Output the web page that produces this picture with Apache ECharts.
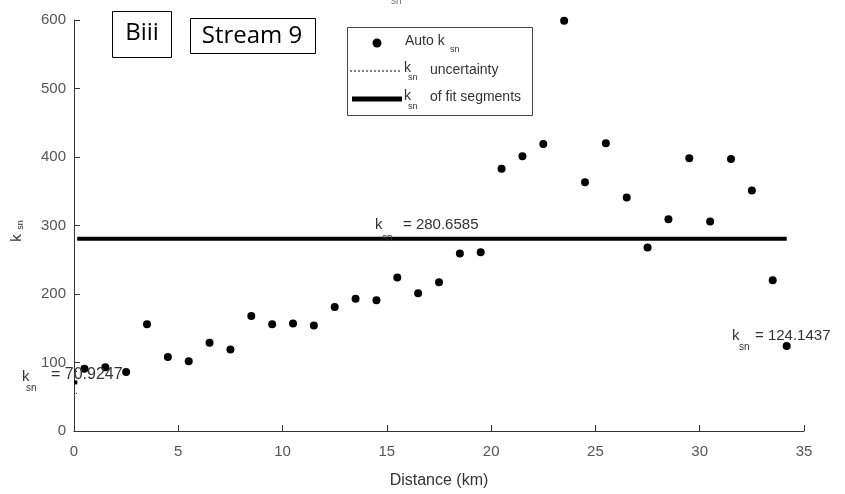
<!DOCTYPE html>
<html>
<head>
<meta charset="utf-8">
<script src="https://cdn.jsdelivr.net/npm/echarts@6/dist/echarts.min.js"></script>
<style>html,body{margin:0;padding:0;background:#fff}#c{width:845px;height:494px}</style>
</head>
<body>
<div id="c"></div>
<script>
// Auto k_sn points
const distanceKm = [0.5,1.5,2.5,3.5,4.5,5.5,6.5,7.5,8.5,9.5,10.5,11.5,12.5,13.5,14.5,15.5,16.5,17.5,18.5,19.5,20.5,21.5,22.5,23.5,24.5,25.5,26.5,27.5,28.5,29.5,30.5,31.5,32.5,33.5,34.17];
const autoKsn   = [91,93,86,156,108,102,129,119,168,156,157,154,181,193,191,224,201,217,259,261,383,401,419,599,363,420,341,268,309,398,306,397,351,220,124];
// Fit segments
const segStart = [0, 0.16, 34.17];
const segEnd   = [0.16, 34.17, 34.2];
const segKsn   = [70.9247, 280.6585, 124.1437];
const segLow   = [55, 279.5, 112];
const segHigh  = [87, 281.8, 139];
// Axis ticks
const xTicks = [0,5,10,15,20,25,30,35];
const yTicks = [0,100,200,300,400,500,600];

const AX = '#333', LAB = '#555', FF = '"Liberation Sans", Arial, sans-serif';

const series = [{
  name: 'Auto k_sn', type: 'scatter', symbol: 'circle', symbolSize: 8,
  itemStyle: { color: '#000', opacity: 1 }, z: 5,
  data: distanceKm.map((d, i) => [d, autoKsn[i]])
}];
segStart.forEach((s, i) => {
  series.push({ type: 'line', symbol: 'none', silent: true, z: 3,
    lineStyle: { color: '#000', width: 1, type: 'dotted' },
    data: [[s, segLow[i]], [segEnd[i], segLow[i]]] });
  series.push({ type: 'line', symbol: 'none', silent: true, z: 3,
    lineStyle: { color: '#000', width: 1, type: 'dotted' },
    data: [[s, segHigh[i]], [segEnd[i], segHigh[i]]] });
  series.push({ type: 'line', symbol: 'none', silent: true, z: 4,
    lineStyle: { color: '#000', width: 4, cap: 'butt' },
    data: [[s, segKsn[i]], [segEnd[i], segKsn[i]]] });
});

function txt(x, y, s, size, opts) {
  return { type: 'text', x: x, y: y, z: 20,
    style: Object.assign({ text: s, fontSize: size, fontFamily: FF, fill: '#333',
      textAlign: 'left', textVerticalAlign: 'middle' }, (opts || {})) };
}

const graphic = [
  // panel labels
  { type: 'rect', z: 20, shape: { x: 112.5, y: 11.5, width: 59, height: 46 }, style: { fill: '#fff', stroke: '#000', lineWidth: 1 } },
  txt(142, 33, 'Biii', 24, { textAlign: 'center', fontFamily: '"Open Sans", sans-serif', fill: '#000' }),
  { type: 'rect', z: 20, shape: { x: 190.5, y: 18.5, width: 125, height: 35 }, style: { fill: '#fff', stroke: '#000', lineWidth: 1 } },
  txt(252, 36, 'Stream 9', 24, { textAlign: 'center', fontFamily: '"Open Sans", sans-serif', fill: '#000' }),
  // legend
  { type: 'rect', z: 20, shape: { x: 347.5, y: 27.5, width: 185, height: 88 }, style: { fill: '#fff', stroke: '#444', lineWidth: 1 } },
  { type: 'circle', z: 21, shape: { cx: 377, cy: 43, r: 4.5 }, style: { fill: '#000' } },
  txt(405, 41, 'Auto k', 14),
  txt(450, 50, 'sn', 9),
  { type: 'line', z: 21, shape: { x1: 350, y1: 71, x2: 402, y2: 71 }, style: { stroke: '#000', lineWidth: 1, lineDash: [2, 2] } },
  txt(404, 68, 'k', 14),
  txt(408, 78, 'sn', 9),
  txt(430, 70, 'uncertainty', 14),
  { type: 'line', z: 21, shape: { x1: 352, y1: 99, x2: 402, y2: 99 }, style: { stroke: '#000', lineWidth: 5 } },
  txt(404, 96, 'k', 14),
  txt(408, 107, 'sn', 9),
  txt(430, 97, 'of fit segments', 14),
  // segment labels
  txt(375, 225, 'k', 15),
  txt(382, 238, 'sn', 10),
  txt(403, 225, '= 280.6585', 15),
  txt(732, 336, 'k', 15),
  txt(739, 347, 'sn', 10),
  txt(755, 336, '= 124.1437', 15),
  txt(22, 377, 'k', 15),
  txt(26, 388, 'sn', 10),
  txt(51, 375, '= 70.9247', 16),
  txt(391, 1, 'sn', 10, { fill: '#777' }),
  // y-axis title
  { type: 'text', z: 20, x: 17, y: 238, rotation: Math.PI / 2,
    style: { text: 'k', fontSize: 15, fontFamily: FF, fill: '#333', textAlign: 'center', textVerticalAlign: 'middle' } },
  { type: 'text', z: 20, x: 21, y: 225, rotation: Math.PI / 2,
    style: { text: 'sn', fontSize: 9, fontFamily: FF, fill: '#333', textAlign: 'center', textVerticalAlign: 'middle' } }
];

const chart = echarts.init(document.getElementById('c'), null, { renderer: 'canvas' });
chart.setOption({
  animation: false,
  backgroundColor: '#fff',
  grid: { left: 74, right: 41, top: 20, bottom: 54, containLabel: false },
  xAxis: {
    type: 'value', min: xTicks[0], max: xTicks[xTicks.length - 1], interval: 5,
    name: 'Distance (km)', nameLocation: 'middle', nameGap: 42,
    nameTextStyle: { color: '#333', fontSize: 16, fontFamily: FF },
    axisLine: { show: true, lineStyle: { color: AX, width: 1 } },
    axisTick: { show: true, inside: true, length: 6, lineStyle: { color: AX } },
    axisLabel: { color: LAB, fontSize: 15, fontFamily: FF, margin: 13 },
    splitLine: { show: false }
  },
  yAxis: {
    type: 'value', min: yTicks[0], max: yTicks[yTicks.length - 1], interval: 100,
    axisLine: { show: true, lineStyle: { color: AX, width: 1 } },
    axisTick: { show: true, inside: true, length: 6, lineStyle: { color: AX } },
    axisLabel: { color: LAB, fontSize: 15, fontFamily: FF, margin: 8 },
    splitLine: { show: false }
  },
  series: series,
  graphic: graphic
});
</script>
</body>
</html>
